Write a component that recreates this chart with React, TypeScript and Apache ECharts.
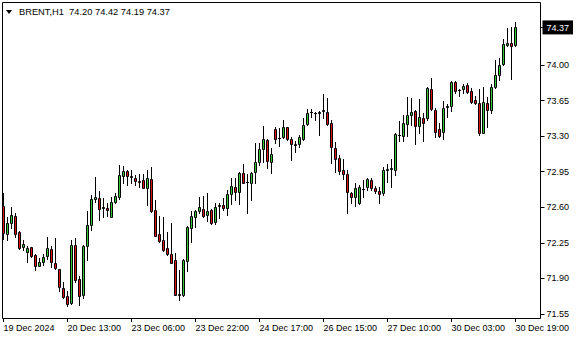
import React, { useEffect, useRef } from 'react';
import * as echarts from 'echarts';

const symbol = 'BRENT';
const period = 'H1';

const opens = [
  72.61, 72.34, 72.45, 72.51, 72.36, 72.21, 72.16, 72.21, 72.13, 72.02,
  72.06, 72.12, 72.19, 72.05, 71.99, 71.81, 71.73, 71.66, 72.23, 71.89,
  71.74, 72.22, 72.43, 72.68, 72.69, 72.59, 72.59, 72.50, 72.65, 72.70,
  72.91, 72.96, 72.91, 72.89, 72.86, 72.87, 72.79, 72.88, 72.57, 72.34,
  72.28, 72.20, 72.14, 72.08, 71.75, 71.74, 72.07, 72.40, 72.50, 72.56,
  72.58, 72.52, 72.57, 72.46, 72.62, 72.62, 72.59, 72.73, 72.80, 72.75,
  72.94, 72.85, 72.84, 72.95, 73.05, 73.17, 73.26, 73.05, 73.37, 73.28,
  73.29, 73.39, 73.27, 73.21, 73.22, 73.27, 73.42, 73.54, 73.53, 73.53,
  73.55, 73.54, 73.43, 73.18, 73.09, 72.97, 72.93, 72.74, 72.70, 72.64,
  72.78, 72.80, 72.87, 72.79, 72.76, 72.74, 72.97, 72.98, 72.97, 73.31,
  73.30, 73.42, 73.51, 73.55, 73.40, 73.48, 73.48, 73.76, 73.56, 73.37,
  73.34, 73.59, 73.60, 73.83, 73.75, 73.76, 73.80, 73.74, 73.66, 73.63,
  73.33, 73.63, 73.56, 73.78, 73.90, 74.01, 74.20, 74.22, 74.20,
];

const highs = [
  72.74, 72.50, 72.60, 72.54, 72.37, 72.28, 72.22, 72.21, 72.14, 72.10,
  72.14, 72.31, 72.22, 72.30, 71.99, 71.87, 71.78, 72.28, 72.30, 71.92,
  72.23, 72.56, 72.72, 72.90, 72.76, 72.69, 72.64, 72.70, 72.74, 73.02,
  73.01, 72.97, 72.97, 72.92, 72.93, 72.93, 72.97, 73.00, 72.67, 72.51,
  72.50, 72.36, 72.45, 72.15, 71.98, 72.09, 72.42, 72.56, 72.57, 72.70,
  72.71, 72.74, 72.58, 72.64, 72.64, 72.69, 72.77, 72.89, 72.89, 72.95,
  73.03, 72.93, 72.95, 73.23, 73.23, 73.40, 73.27, 73.18, 73.39, 73.38,
  73.46, 73.39, 73.29, 73.25, 73.31, 73.48, 73.57, 73.57, 73.54, 73.55,
  73.71, 73.68, 73.46, 73.24, 73.11, 73.08, 72.97, 72.75, 72.84, 72.82,
  72.87, 72.89, 72.89, 72.81, 72.80, 73.00, 73.03, 73.08, 73.33, 73.45,
  73.51, 73.69, 73.68, 73.56, 73.67, 73.53, 73.78, 73.87, 73.58, 73.43,
  73.65, 73.62, 73.84, 73.84, 73.76, 73.81, 73.82, 73.77, 73.70, 73.76,
  73.78, 73.69, 73.81, 74.05, 74.07, 74.26, 74.36, 74.37, 74.42,
];

const lows = [
  72.29, 72.28, 72.40, 72.31, 72.19, 72.18, 72.06, 72.11, 71.98, 72.02,
  72.03, 72.09, 72.01, 71.99, 71.78, 71.71, 71.63, 71.65, 71.87, 71.64,
  71.71, 72.08, 72.38, 72.65, 72.48, 72.50, 72.51, 72.50, 72.64, 72.68,
  72.84, 72.82, 72.84, 72.82, 72.80, 72.79, 72.62, 72.55, 72.32, 72.26,
  72.17, 72.13, 72.05, 71.74, 71.69, 71.73, 71.97, 72.26, 72.41, 72.54,
  72.50, 72.47, 72.44, 72.44, 72.49, 72.57, 72.52, 72.63, 72.67, 72.63,
  72.84, 72.54, 72.67, 72.84, 73.02, 73.05, 72.99, 72.94, 73.23, 73.20,
  73.28, 73.26, 73.07, 73.14, 73.19, 73.26, 73.41, 73.49, 73.46, 73.31,
  73.48, 73.41, 73.04, 72.95, 72.93, 72.88, 72.54, 72.64, 72.61, 72.63,
  72.70, 72.77, 72.77, 72.74, 72.64, 72.72, 72.85, 72.80, 72.92, 73.25,
  73.25, 73.30, 73.41, 73.22, 73.33, 73.25, 73.46, 73.56, 73.29, 73.29,
  73.27, 73.49, 73.55, 73.72, 73.70, 73.72, 73.72, 73.63, 73.62, 73.31,
  73.33, 73.39, 73.53, 73.77, 73.85, 74.00, 74.19, 73.86, 74.19,
];

const closes = [
  72.35, 72.45, 72.52, 72.34, 72.20, 72.24, 72.20, 72.12, 72.02, 72.06,
  72.11, 72.20, 72.06, 72.00, 71.82, 71.72, 71.65, 72.23, 71.88, 71.73,
  72.22, 72.43, 72.68, 72.70, 72.58, 72.60, 72.57, 72.65, 72.71, 72.92,
  72.96, 72.91, 72.90, 72.86, 72.85, 72.79, 72.89, 72.56, 72.32, 72.27,
  72.18, 72.14, 72.05, 71.74, 71.74, 72.08, 72.41, 72.51, 72.56, 72.60,
  72.51, 72.56, 72.45, 72.60, 72.61, 72.59, 72.73, 72.81, 72.75, 72.94,
  72.84, 72.85, 72.94, 73.05, 73.17, 73.27, 73.06, 73.12, 73.27, 73.28,
  73.39, 73.27, 73.22, 73.22, 73.29, 73.41, 73.53, 73.54, 73.53, 73.54,
  73.56, 73.42, 73.19, 73.08, 72.96, 72.93, 72.75, 72.70, 72.79, 72.80,
  72.78, 72.88, 72.79, 72.76, 72.73, 72.97, 72.98, 72.99, 73.32, 73.31,
  73.43, 73.51, 73.54, 73.40, 73.49, 73.43, 73.77, 73.57, 73.34, 73.30,
  73.58, 73.60, 73.83, 73.74, 73.75, 73.79, 73.73, 73.64, 73.63, 73.33,
  73.64, 73.56, 73.78, 73.90, 74.00, 74.21, 74.22, 74.19, 74.37,
];

const timeLabels = [
  '19 Dec 2024', '20 Dec 13:00', '23 Dec 06:00', '23 Dec 22:00', '24 Dec 17:00',
  '26 Dec 15:00', '27 Dec 10:00', '30 Dec 03:00', '30 Dec 19:00',
];
const barsPerLabel = 16;
const priceTicks = [71.55, 71.9, 72.25, 72.6, 72.95, 73.3, 73.65, 74.0];
const emptyBarsRight = 5;

const BULL = '#32c832';
const BEAR = '#e01010';

export default function App() {
  const ref = useRef<HTMLDivElement>(null);
  useEffect(() => {
    if (!ref.current) return;
    const chart = echarts.init(ref.current, null, { renderer: 'svg' });
    const n = opens.length;
    const categories = Array.from({ length: n + emptyBarsRight }, (_, i) => String(i));
    const data = opens.map((o, i) => [i, o, closes[i], lows[i], highs[i]]);
    const last = n - 1;
    const lastClose = closes[last];
    const fmt = (v: number) => v.toFixed(2);
    const font = '"Liberation Sans", Arial, sans-serif';
    const header = `${symbol},${period}  ${fmt(opens[last])} ${fmt(highs[last])} ${fmt(lows[last])} ${fmt(closes[last])}`;
    const yVals = [...priceTicks, lastClose];

    const renderCandle = (_params: any, api: any) => {
      const i = api.value(0);
      const o = api.value(1);
      const c = api.value(2);
      const l = api.value(3);
      const h = api.value(4);
      const pO = api.coord([i, o]);
      const yC = api.coord([i, c])[1];
      const yL = api.coord([i, l])[1];
      const yH = api.coord([i, h])[1];
      const x = Math.floor(pO[0]) + 0.5;
      const snap = (y: number) => Math.round(y) + 0.5;
      const top = snap(Math.min(pO[1], yC));
      const bottom = snap(Math.max(pO[1], yC));
      const hi = snap(yH);
      const lo = snap(yL);
      const bull = c >= o;
      const line = { stroke: '#000', lineWidth: 1 };
      const children: any[] = [];
      if (hi < top) {
        children.push({ type: 'line', shape: { x1: x, y1: hi - 0.5, x2: x, y2: top }, style: line });
      }
      if (lo > bottom) {
        children.push({ type: 'line', shape: { x1: x, y1: bottom, x2: x, y2: lo + 0.5 }, style: line });
      }
      if (bottom - top >= 1) {
        children.push({
          type: 'rect',
          shape: { x: x - 1, y: top, width: 2, height: bottom - top },
          style: { fill: bull ? BULL : BEAR, stroke: '#000', lineWidth: 1 },
        });
      } else {
        children.push({ type: 'line', shape: { x1: x - 1.5, y1: top, x2: x + 1.5, y2: top }, style: line });
      }
      return { type: 'group', children };
    };

    chart.setOption({
      animation: false,
      backgroundColor: '#fff',
      grid: { left: 1.5, top: 2, width: 536, height: 316 },
      xAxis: {
        type: 'category',
        data: categories,
        boundaryGap: true,
        axisLine: { show: false },
        axisTick: {
          show: true,
          alignWithLabel: true,
          interval: (i: number) => i % barsPerLabel === 0,
          length: 4,
          lineStyle: { color: '#000', width: 1 },
        },
        axisLabel: {
          interval: (i: number) => i % barsPerLabel === 0,
          formatter: (_v: string, i: number) => timeLabels[i / barsPerLabel] ?? '',
          align: 'left',
          margin: 5,
          fontFamily: font,
          fontSize: 9,
          color: '#000',
        },
        splitLine: { show: false },
      },
      yAxis: {
        type: 'value',
        position: 'right',
        offset: 3,
        min: 71.511,
        max: 74.62,
        axisLine: { show: false },
        axisTick: {
          show: true,
          customValues: yVals,
          length: 4,
          lineStyle: { color: '#000', width: 1 },
        },
        axisLabel: {
          customValues: yVals,
          margin: 2,
          formatter: (v: number) =>
            Math.abs(v - lastClose) < 1e-9 ? `{cur|${fmt(v)}}` : `{n|${fmt(v)}}`,
          rich: {
            n: { padding: [0, 0, 0, 4], fontSize: 9, fontFamily: font, color: '#000' },
            cur: {
              backgroundColor: '#000',
              color: '#fff',
              padding: [3, 4, 2, 4],
              fontSize: 9,
              fontFamily: font,
            },
          },
        },
        splitLine: { show: false },
      },
      series: [
        {
          type: 'custom',
          data,
          encode: { x: 0, y: [1, 2, 3, 4] },
          renderItem: renderCandle,
          clip: false,
        },
      ],
      graphic: [
        {
          type: 'rect',
          silent: true,
          z: 100,
          shape: { x: 2.5, y: 2.5, width: 538, height: 316 },
          style: { fill: 'none', stroke: '#000', lineWidth: 1 },
        },
        {
          type: 'polygon',
          silent: true,
          shape: { points: [[6, 10], [12, 10], [9, 14]] },
          style: { fill: '#000' },
        },
        {
          type: 'text',
          silent: true,
          style: {
            x: 19,
            y: 12,
            text: header,
            fill: '#000',
            font: `9.3px ${font}`,
            verticalAlign: 'middle',
          },
        },
      ],
    });
    return () => chart.dispose();
  }, []);
  return (
    <div
      ref={ref}
      style={{ position: 'absolute', left: 0, top: 0, width: 580, height: 340, background: '#fff' }}
    />
  );
}
